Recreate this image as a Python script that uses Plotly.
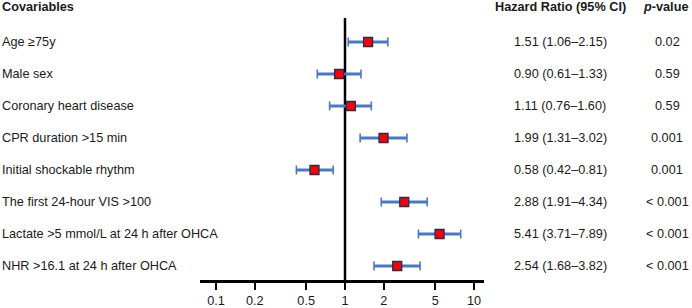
import plotly.graph_objects as go

covariables = ["Age ≥75y", "Male sex", "Coronary heart disease", "CPR duration >15 min",
               "Initial shockable rhythm", "The first 24-hour VIS >100",
               "Lactate >5 mmol/L at 24 h after OHCA", "NHR >16.1 at 24 h after OHCA"]
hr = [1.51, 0.90, 1.11, 1.99, 0.58, 2.88, 5.41, 2.54]
ci_low = [1.06, 0.61, 0.76, 1.31, 0.42, 1.91, 3.71, 1.68]
ci_high = [2.15, 1.33, 1.60, 3.02, 0.81, 4.34, 7.89, 3.82]
p_values = ["0.02", "0.59", "0.59", "0.001", "0.001", "< 0.001", "< 0.001", "< 0.001"]
tick_vals = [0.1, 0.2, 0.5, 1, 2, 5, 10]
tick_text = ["0.1", "0.2", "0.5", "1", "2", "5", "10"]

FONT = "Liberation Sans, Arial, sans-serif"
FS = 12.7
TXT = "#1a1a1a"
BLUE = "#4a78c8"

rows = list(range(len(covariables)))

fig = go.Figure()

# CI lines (thick)
lx, ly = [], []
for i in rows:
    lx += [ci_low[i], ci_high[i], None]
    ly += [i, i, None]
fig.add_trace(go.Scatter(x=lx, y=ly, mode="lines", line=dict(color=BLUE, width=3),
                         hoverinfo="skip", showlegend=False))

# caps via error bars + markers
fig.add_trace(go.Scatter(
    x=hr, y=rows, mode="markers",
    marker=dict(symbol="square", size=9, color="#ff0000",
                line=dict(color="#1f2f5a", width=1.3)),
    error_x=dict(type="data", symmetric=False,
                 array=[h - m for h, m in zip(ci_high, hr)],
                 arrayminus=[m - l for m, l in zip(hr, ci_low)],
                 color=BLUE, thickness=1.6, width=4.5),
    showlegend=False))

# reference line at 1
fig.add_shape(type="line", xref="x", yref="paper", x0=1, x1=1, y0=0, y1=1,
              line=dict(color="black", width=2.5), layer="below")

L, R = 200, 484
W = R - L
T, B = 18, 28
H = 308 - T - B
ROW_PX = 32

def px(xp):
    return (xp - L) / W

ann = []
for i, name in enumerate(covariables):
    ann.append(dict(x=px(0), y=i, xref="paper", yref="y", text=name, showarrow=False,
                    xanchor="left", yanchor="middle", font=dict(family=FONT, size=FS, color=TXT)))
    ann.append(dict(x=px(560), y=i, xref="paper", yref="y",
                    text=f"{hr[i]:.2f} ({ci_low[i]:.2f}–{ci_high[i]:.2f})", showarrow=False,
                    xanchor="center", yanchor="middle", font=dict(family=FONT, size=FS, color=TXT)))
    ann.append(dict(x=px(667), y=i, xref="paper", yref="y", text=p_values[i], showarrow=False,
                    xanchor="center", yanchor="middle", font=dict(family=FONT, size=FS, color=TXT)))

hy = 1 + (T - 7) / H
ann.append(dict(x=px(0), y=hy, xref="paper", yref="paper", text="<b>Covariables</b>", showarrow=False,
                xanchor="left", yanchor="middle", font=dict(family=FONT, size=FS, color=TXT)))
ann.append(dict(x=px(560), y=hy, xref="paper", yref="paper", text="<b>Hazard Ratio (95% CI)</b>",
                showarrow=False, xanchor="center", yanchor="middle",
                font=dict(family=FONT, size=FS, color=TXT)))
ann.append(dict(x=px(665), y=hy, xref="paper", yref="paper", text="<b><i>p</i>-value</b>",
                showarrow=False, xanchor="center", yanchor="middle",
                font=dict(family=FONT, size=FS, color=TXT)))

fig.update_layout(
    width=692, height=308,
    margin=dict(l=L, r=692 - R, t=T, b=B, pad=0, autoexpand=False),
    paper_bgcolor="white", plot_bgcolor="white",
    annotations=ann,
    xaxis=dict(type="log", range=[-1.124, 1.0775], tickvals=tick_vals, ticktext=tick_text,
               showgrid=False, zeroline=False, showline=True, linecolor="black", linewidth=3,
               ticks="outside", ticklen=7, tickwidth=1.5, tickcolor="black", automargin=False,
               tickfont=dict(family=FONT, size=FS, color=TXT), fixedrange=True),
    yaxis=dict(visible=False, range=[-0.75 + H / ROW_PX, -0.75], fixedrange=True, automargin=False),
)

fig.write_html("out.html", config={"displayModeBar": False},
               post_script="document.body.style.margin='0';document.body.style.overflow='hidden';")
